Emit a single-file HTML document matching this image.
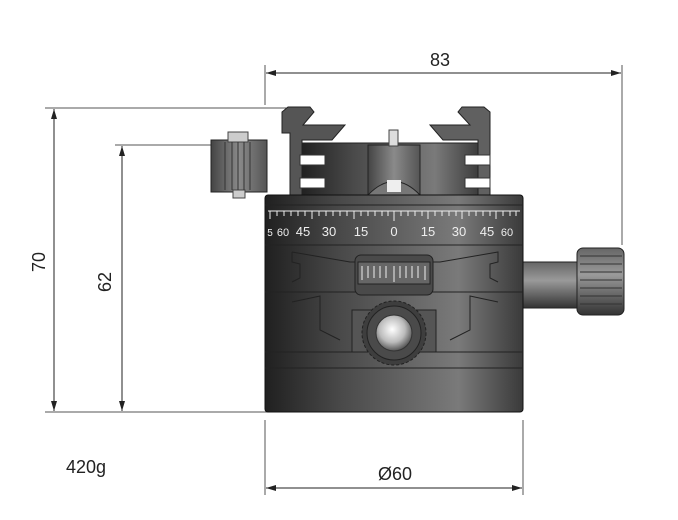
<!DOCTYPE html>
<html><head><style>body{margin:0;background:#fff}svg{display:block}</style></head><body>
<svg width="678" height="520" viewBox="0 0 678 520" xmlns="http://www.w3.org/2000/svg" font-family="Liberation Sans, sans-serif">
<defs>
<linearGradient id="g" x1="0" x2="1" y1="0" y2="0">
<stop offset="0" stop-color="#202020"/><stop offset="0.3" stop-color="#4a4a4a"/><stop offset="0.75" stop-color="#7a7a7a"/><stop offset="1" stop-color="#3a3a3a"/></linearGradient>
<linearGradient id="g2" x1="0" x2="1"><stop offset="0" stop-color="#444"/><stop offset="0.5" stop-color="#8a8a8a"/><stop offset="1" stop-color="#555"/></linearGradient>
<linearGradient id="k" x1="0" x2="0" y1="0" y2="1"><stop offset="0" stop-color="#666"/><stop offset="0.4" stop-color="#9a9a9a"/><stop offset="1" stop-color="#333"/></linearGradient>
<radialGradient id="b" cx="0.45" cy="0.4" r="0.6"><stop offset="0" stop-color="#fff"/><stop offset="0.6" stop-color="#bbb"/><stop offset="1" stop-color="#555"/></radialGradient>
<marker id="a" viewBox="0 0 10 6" refX="10" refY="3" markerWidth="10" markerHeight="6" orient="auto-start-reverse"><path d="M0,0L10,3L0,6z" fill="#222"/></marker>
</defs>
<g stroke="#555" stroke-width="1" fill="none">
<line x1="265" y1="65" x2="265" y2="105"/><line x1="622" y1="65" x2="622" y2="245"/>
<line x1="45" y1="108" x2="290" y2="108"/><line x1="45" y1="412" x2="272" y2="412"/>
<line x1="115" y1="145" x2="215" y2="145"/>
<line x1="265" y1="420" x2="265" y2="495"/><line x1="523" y1="420" x2="523" y2="495"/>
</g>
<g stroke="#222" stroke-width="1">
<line x1="266" y1="73" x2="621" y2="73" marker-start="url(#a)" marker-end="url(#a)"/>
<line x1="54" y1="109" x2="54" y2="411" marker-start="url(#a)" marker-end="url(#a)"/>
<line x1="122" y1="146" x2="122" y2="411" marker-start="url(#a)" marker-end="url(#a)"/>
<line x1="266" y1="488" x2="522" y2="488" marker-start="url(#a)" marker-end="url(#a)"/>
</g>
<g font-size="18" fill="#222">
<text x="440" y="66" text-anchor="middle">83</text>
<text x="395" y="480" text-anchor="middle">Ø60</text>
<text x="66" y="473">420g</text>
<text transform="translate(45,262) rotate(-90)" text-anchor="middle">70</text>
<text transform="translate(111,282) rotate(-90)" text-anchor="middle">62</text>
</g>
<!-- left knob -->
<rect x="211" y="140" width="56" height="52" fill="url(#g2)" stroke="#222"/>
<rect x="228" y="132" width="20" height="10" fill="#ccc" stroke="#444"/>
<rect x="233" y="190" width="12" height="8" fill="#ccc" stroke="#444"/>
<g stroke="#333"><line x1="225" y1="142" x2="225" y2="190"/><line x1="232" y1="142" x2="232" y2="190"/><line x1="238" y1="142" x2="238" y2="190"/><line x1="244" y1="142" x2="244" y2="190"/><line x1="250" y1="142" x2="250" y2="190"/></g>
<!-- clamp -->
<rect x="300" y="143" width="180" height="52" fill="url(#g)" stroke="#222"/>
<polygon points="282,112 288,107 310,107 314,112 303,125 345,125 332,140 302,140 302,195 290,195 290,133 282,133" fill="#555" stroke="#222"/>
<polygon points="490,112 484,107 462,107 458,112 470,125 430,125 443,140 478,140 478,195 490,195" fill="#606060" stroke="#222"/>
<path d="M300,155 H325 V165 H300 Z M300,178 H325 V188 H300Z M465,155 H490 V165 H465Z M465,178 H490 V188 H465Z" fill="#fff" stroke="#333"/>
<rect x="368" y="145" width="52" height="50" fill="url(#g2)" stroke="#222"/>
<rect x="389" y="130" width="9" height="16" fill="#ddd" stroke="#444"/>
<path d="M368,195 Q394,168 420,195Z" fill="#777" stroke="#222"/>
<rect x="387" y="180" width="14" height="12" fill="#eee"/>
<!-- right knob -->
<rect x="523" y="262" width="55" height="46" fill="url(#k)" stroke="#222"/>
<rect x="577" y="248" width="47" height="67" rx="6" fill="url(#k)" stroke="#222"/>
<g stroke="#333"><line x1="580" y1="256" x2="622" y2="256"/><line x1="580" y1="264" x2="622" y2="264"/><line x1="580" y1="272" x2="622" y2="272"/><line x1="580" y1="280" x2="622" y2="280"/><line x1="580" y1="288" x2="622" y2="288"/><line x1="580" y1="296" x2="622" y2="296"/><line x1="580" y1="304" x2="622" y2="304"/></g>
<!-- body -->
<rect x="265" y="195" width="258" height="217" rx="3" fill="url(#g)" stroke="#111"/>
<g stroke="#222" fill="none"><line x1="265" y1="205" x2="523" y2="205"/><line x1="265" y1="245" x2="523" y2="245"/><line x1="265" y1="292" x2="523" y2="292"/><line x1="265" y1="352" x2="523" y2="352"/><line x1="265" y1="368" x2="523" y2="368"/></g>
<g stroke="#eee" stroke-width="1">
<line x1="268" y1="211" x2="520" y2="211"/>
<path d="M270,211v8M277,211v5M284,211v5M291,211v5M298,211v5M305,211v5M312,211v8M319,211v5M326,211v5M333,211v5M340,211v5M347,211v5M354,211v8M361,211v5M368,211v5M375,211v5M382,211v5M388,211v5M394,211v10M401,211v5M408,211v5M415,211v5M422,211v5M428,211v8M435,211v5M442,211v5M449,211v5M456,211v5M462,211v8M469,211v5M476,211v5M483,211v5M490,211v5M496,211v8M503,211v5M510,211v5M516,211v5"/>
</g>
<g fill="#eee" font-size="13" text-anchor="middle">
<text x="270" y="236" font-size="10">5</text><text x="283" y="236" font-size="11">60</text><text x="303" y="236">45</text><text x="329" y="236">30</text><text x="361" y="236">15</text><text x="394" y="236">0</text><text x="428" y="236">15</text><text x="459" y="236">30</text><text x="487" y="236">45</text><text x="507" y="236" font-size="11">60</text>
</g>
<path d="M292,252 L350,262 L440,262 L498,252 V262 L490,264 V278 L498,282 M292,252 V262 L300,264 V278 L292,282" fill="none" stroke="#222"/>
<path d="M292,302 L320,296 V330 L340,340 M498,302 L470,296 V330 L450,340" fill="none" stroke="#222"/>
<rect x="355" y="255" width="78" height="40" rx="6" fill="#4a4a4a" stroke="#222"/>
<rect x="358" y="262" width="72" height="22" fill="#666" stroke="#222"/>
<g stroke="#eee"><path d="M362,266v14M368,266v12M374,266v12M380,266v12M386,266v12M394,266v16M400,266v12M406,266v12M412,266v12M418,266v12M425,266v14"/></g>
<rect x="352" y="310" width="84" height="42" fill="#555" stroke="#222"/>
<circle cx="394" cy="333" r="32" fill="#3e3e3e" stroke="#222" stroke-dasharray="3 2"/>
<circle cx="394" cy="333" r="27" fill="#4a4a4a" stroke="#222"/>
<circle cx="394" cy="333" r="18" fill="url(#b)" stroke="#333"/>
</svg>
</body></html>
